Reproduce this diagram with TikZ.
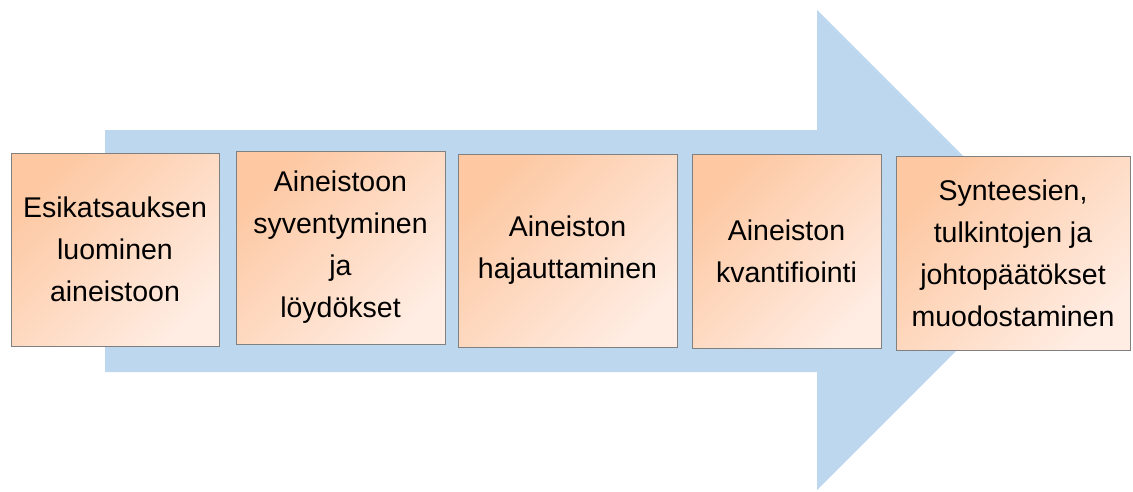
\documentclass[tikz,border=0pt]{standalone}
\usepackage{fontspec}
\setmainfont{Liberation Sans}
\begin{document}
\begin{tikzpicture}[x=1pt,y=-1pt,
  stepbox/.style={draw=black!50, line width=0.9pt, top color=boxdark, bottom color=boxlight, shading angle=45,
    inner sep=0pt, align=center, font=\fontsize{28.5}{42}\selectfont, text=black},
]
\definecolor{arrowblue}{HTML}{BDD7EE}
\definecolor{boxdark}{HTML}{FDC8A2}
\definecolor{boxlight}{HTML}{FFECE2}
\useasboundingbox (0,0) rectangle (1133,491);
\fill[arrowblue] (105,130) -- (817,130) -- (817,10) -- (1057,250) -- (817,490) -- (817,372) -- (105,372) -- cycle;
\node[stepbox, minimum width=208, minimum height=193] (b1) at (115,249.5) {Esikatsauksen\\luominen\\aineistoon};
\node[stepbox, minimum width=209, minimum height=193] (b2) at (340.5,247.5) {Aineistoon\\syventyminen\\ja\\löydökset};
\node[stepbox, minimum width=219, minimum height=193] (b3) at (567.5,250.5) {Aineiston\\hajauttaminen};
\node[stepbox, minimum width=189, minimum height=194] (b4) at (786.5,251) {Aineiston\\kvantifiointi};
\node[stepbox, minimum width=234, minimum height=194] (b5) at (1013,253) {Synteesien,\\tulkintojen ja\\johtopäätökset\\muodostaminen};
\end{tikzpicture}
\end{document}
